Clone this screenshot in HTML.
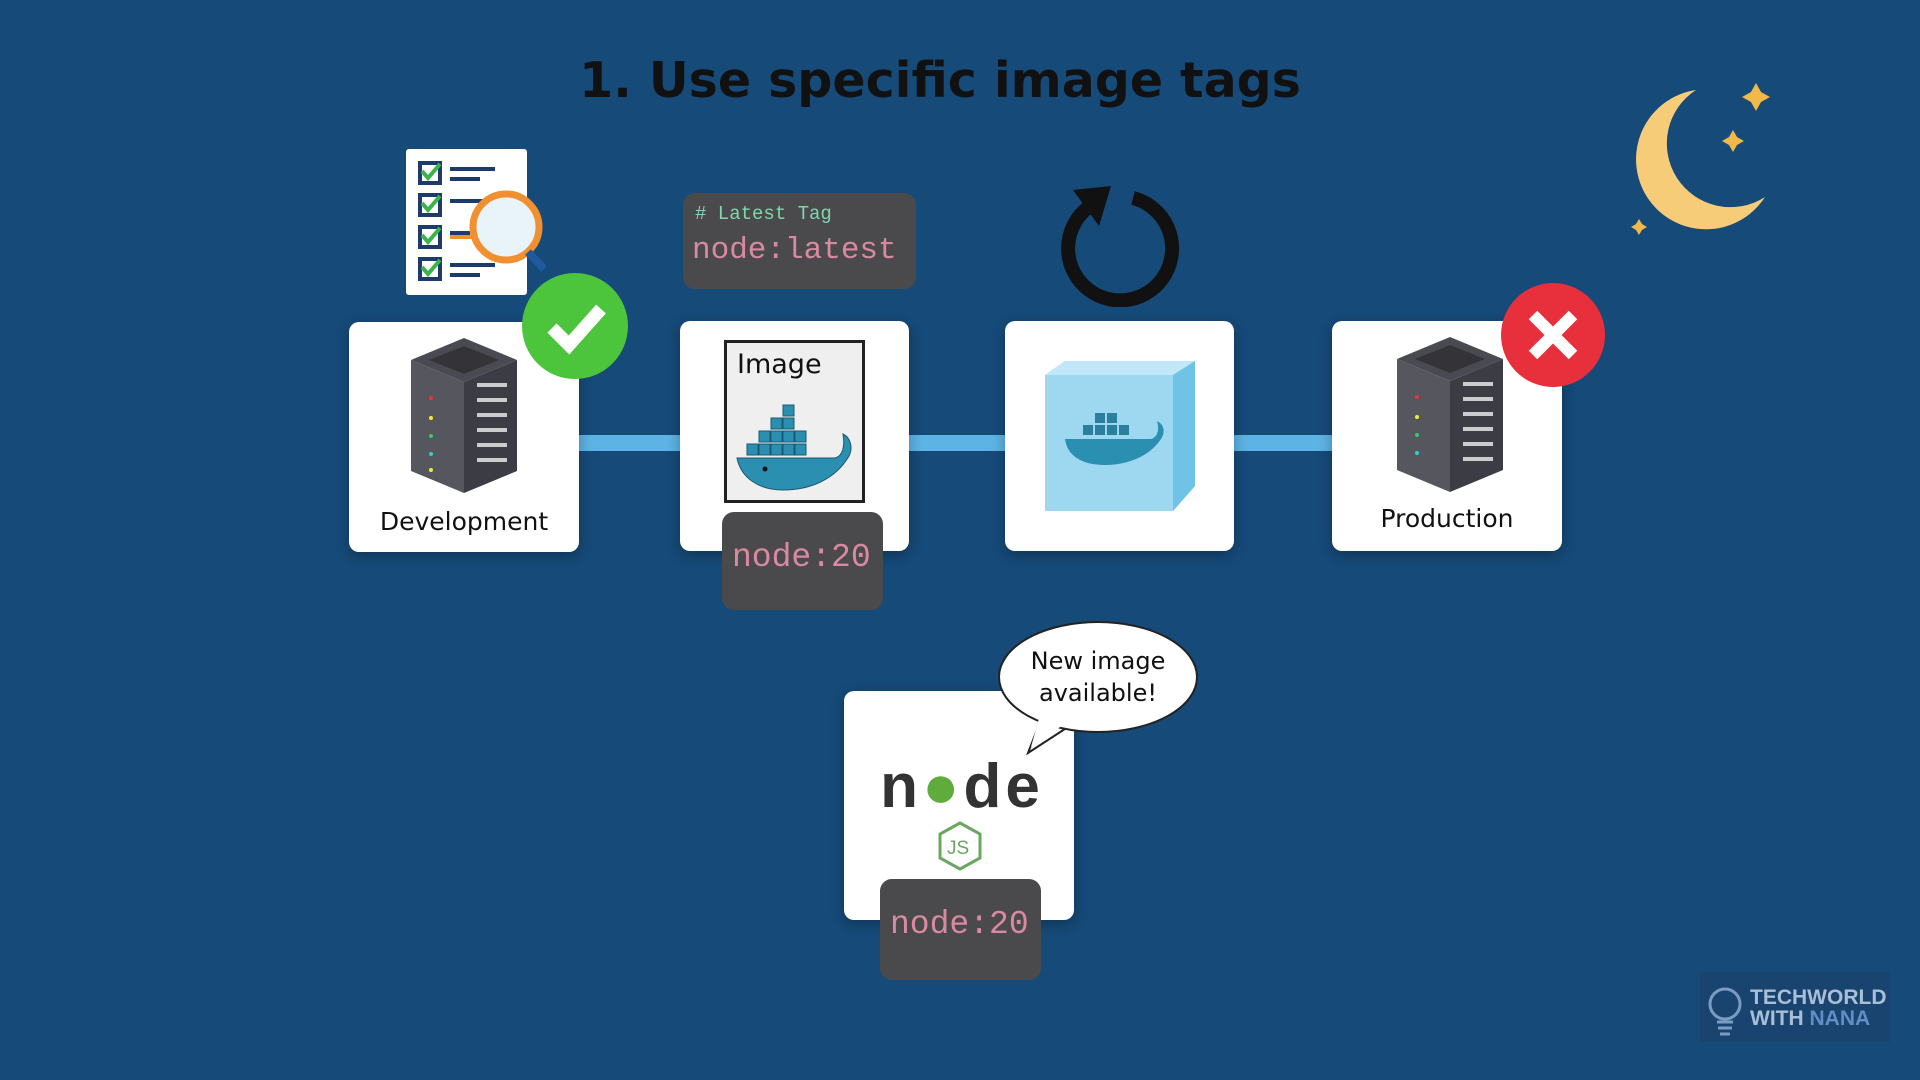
<!DOCTYPE html>
<html><head><meta charset="utf-8"><style>
body{margin:0;width:1920px;height:1080px;background:#164a79;position:relative;overflow:hidden;font-family:"Liberation Sans",sans-serif}
.abs{position:absolute}
.card{position:absolute;background:#fff;border-radius:10px;box-shadow:0 4px 14px rgba(0,0,0,.3)}
.code{position:absolute;background:#4a4a4c;border-radius:12px;font-family:"Liberation Mono",monospace;color:#d98aa0}
.lbl{position:absolute;width:100%;text-align:center;font-size:25px;color:#111;font-family:"DejaVu Sans",sans-serif}
</style></head><body>
<div class="abs" style="left:0;width:1880px;top:52px;text-align:center;font-size:49px;font-weight:bold;color:#111;font-family:'DejaVu Sans',sans-serif;letter-spacing:0px">1. Use specific image tags</div>

<div class="abs" style="left:579px;top:435px;width:753px;height:16px;background:#5db4e4"></div>

<!-- Dev card -->
<div class="card" style="left:349px;top:322px;width:230px;height:230px">
<svg class="abs" style="left:60px;top:16px" width="110" height="160" viewBox="0 0 110 160">
<polygon points="55,0 108,22 55,44 2,22" fill="#4a4a52"/><polygon points="55,8 90,22 55,36 20,22" fill="#333338"/>
<polygon points="2,22 55,44 55,155 2,133" fill="#55565e"/><polygon points="55,44 108,22 108,133 55,155" fill="#3c3d44"/>
<g fill="#ccc"><rect x="68" y="45" width="30" height="4"/><rect x="68" y="60" width="30" height="4"/><rect x="68" y="75" width="30" height="4"/><rect x="68" y="90" width="30" height="4"/><rect x="68" y="105" width="30" height="4"/><rect x="68" y="120" width="30" height="4"/></g>
<circle cx="22" cy="60" r="2" fill="#e33"/><circle cx="22" cy="80" r="2" fill="#ee3"/><circle cx="22" cy="98" r="2" fill="#3c6"/><circle cx="22" cy="116" r="2" fill="#3cc"/><circle cx="22" cy="132" r="2" fill="#ee3"/>
</svg>
<div class="lbl" style="top:185px">Development</div></div>

<!-- checklist -->
<div class="abs" style="left:406px;top:149px;width:121px;height:146px;background:#fff;border-radius:3px"></div>
<svg class="abs" style="left:406px;top:149px" width="150" height="160">
<g stroke="#1d3a6e" stroke-width="4" fill="none"><rect x="14" y="14" width="20" height="20"/><rect x="14" y="46" width="20" height="20"/><rect x="14" y="78" width="20" height="20"/><rect x="14" y="110" width="20" height="20"/>
<path d="M44 20h45M44 30h30M44 52h45M44 84h20M44 116h45M44 126h30"/></g>
<g stroke="#3bb54a" stroke-width="4" fill="none"><path d="M16 22l6 7 12-14M16 54l6 7 12-14M16 86l6 7 12-14M16 118l6 7 12-14"/></g>
<path d="M44 88h50" stroke="#f09030" stroke-width="4"/>
<circle cx="100" cy="78" r="33" fill="#e8f4fa" stroke="#f09030" stroke-width="7"/>
<line x1="122" y1="103" x2="138" y2="120" stroke="#1d5a9e" stroke-width="8"/></svg>
<div class="abs" style="left:522px;top:273px;width:106px;height:106px;border-radius:50%;background:#4cc43c"></div>
<svg class="abs" style="left:522px;top:273px" width="106" height="106"><path d="M30 55l17 17 32-36" stroke="#fff" stroke-width="13" fill="none"/></svg>

<!-- latest tag -->
<div class="code" style="left:683px;top:193px;width:233px;height:96px">
<div class="abs" style="left:12px;top:10px;font-size:19px;color:#7fd6b0"># Latest Tag</div>
<div class="abs" style="left:9px;top:40px;font-size:31px">node:latest</div></div>

<!-- image card -->
<div class="card" style="left:680px;top:321px;width:229px;height:230px">
<div class="abs" style="left:44px;top:19px;width:135px;height:157px;border:3px solid #222;background:#efefef">
<div class="abs" style="left:10px;top:6px;font-size:27px;font-family:'DejaVu Sans',sans-serif;color:#111">Image</div>
<svg class="abs" style="left:8px;top:60px" width="120" height="90" viewBox="0 0 120 90">
<g fill="#2a8fb0" stroke="#1a5a70" stroke-width="1"><rect x="48" y="2" width="11" height="11"/><rect x="36" y="15" width="11" height="11"/><rect x="48" y="15" width="11" height="11"/><rect x="24" y="28" width="11" height="11"/><rect x="36" y="28" width="11" height="11"/><rect x="48" y="28" width="11" height="11"/><rect x="60" y="28" width="11" height="11"/><rect x="12" y="41" width="11" height="11"/><rect x="24" y="41" width="11" height="11"/><rect x="36" y="41" width="11" height="11"/><rect x="48" y="41" width="11" height="11"/><rect x="60" y="41" width="11" height="11"/></g>
<path d="M2 55h98c8-2 10-12 8-24 8 4 10 14 6 22-14 24-40 34-66 34C24 87 6 75 2 55z" fill="#2a8fb0" stroke="#1a5a70"/>
<circle cx="30" cy="66" r="2.5" fill="#111"/></svg></div></div>
<div class="code" style="left:722px;top:512px;width:161px;height:98px"><div class="abs" style="left:10px;top:27px;font-size:33px">node:20</div></div>

<!-- container card -->
<div class="card" style="left:1005px;top:321px;width:229px;height:230px">
<svg class="abs" style="left:40px;top:40px" width="150" height="160">
<polygon points="0,14 20,0 150,0 150,125 128,150 0,150" fill="#9ed8f0"/>
<polygon points="0,14 128,14 150,0 20,0" fill="#c0e8f8"/><polygon points="128,14 150,0 150,125 128,150" fill="#6fc3e6"/>
<g fill="#2a7f9e"><rect x="50" y="52" width="10" height="10"/><rect x="62" y="52" width="10" height="10"/><rect x="38" y="64" width="10" height="10"/><rect x="50" y="64" width="10" height="10"/><rect x="62" y="64" width="10" height="10"/><rect x="74" y="64" width="10" height="10"/></g>
<path d="M20 78h86c8-2 8-12 6-18 8 4 8 12 4 18-12 18-34 26-56 26C36 104 22 94 20 78z" fill="#2a8fb0"/></svg></div>
<!-- refresh -->
<svg class="abs" style="left:1055px;top:182px" width="130" height="125"><path d="M38 22A52 52 0 1 0 78 16" stroke="#111" stroke-width="14" fill="none"/><polygon points="18,8 56,4 44,44" fill="#111"/></svg>

<!-- production -->
<div class="card" style="left:1332px;top:321px;width:230px;height:230px">
<svg class="abs" style="left:63px;top:16px" width="110" height="160" viewBox="0 0 110 160">
<polygon points="55,0 108,22 55,44 2,22" fill="#4a4a52"/><polygon points="55,8 90,22 55,36 20,22" fill="#333338"/>
<polygon points="2,22 55,44 55,155 2,133" fill="#55565e"/><polygon points="55,44 108,22 108,133 55,155" fill="#3c3d44"/>
<g fill="#ccc"><rect x="68" y="45" width="30" height="4"/><rect x="68" y="60" width="30" height="4"/><rect x="68" y="75" width="30" height="4"/><rect x="68" y="90" width="30" height="4"/><rect x="68" y="105" width="30" height="4"/><rect x="68" y="120" width="30" height="4"/></g>
<circle cx="22" cy="60" r="2" fill="#e33"/><circle cx="22" cy="80" r="2" fill="#ee3"/><circle cx="22" cy="98" r="2" fill="#3c6"/><circle cx="22" cy="116" r="2" fill="#3cc"/></svg>
<div class="lbl" style="top:183px">Production</div></div>
<div class="abs" style="left:1501px;top:283px;width:104px;height:104px;border-radius:50%;background:#e8303c"></div>
<svg class="abs" style="left:1501px;top:283px" width="104" height="104"><path d="M32 32l40 40M72 32l-40 40" stroke="#fff" stroke-width="12"/></svg>

<!-- node card -->
<div class="card" style="left:844px;top:691px;width:230px;height:229px">
<div class="abs" style="left:18px;top:60px;width:200px;text-align:center;font-size:62px;font-weight:bold;color:#333;letter-spacing:4px">n<span style="color:#5fab3c">●</span>de</div>
<svg class="abs" style="left:92px;top:130px" width="50" height="50"><polygon points="24,2 44,13 44,37 24,48 4,37 4,13" fill="none" stroke="#6aa860" stroke-width="3"/><text x="11" y="33" font-size="19" fill="#6aa860" font-family="Liberation Sans">JS</text></svg></div>
<div class="code" style="left:880px;top:879px;width:161px;height:101px"><div class="abs" style="left:10px;top:27px;font-size:33px">node:20</div></div>
<svg class="abs" style="left:990px;top:615px" width="215" height="140"><path d="M52 102 L38 138 L78 112 Z" fill="#fff" stroke="#222" stroke-width="2"/><ellipse cx="108" cy="62" rx="99" ry="55" fill="#fff" stroke="#222" stroke-width="2"/><path d="M50 100 L41 132 L76 108 Z" fill="#fff"/></svg>
<div class="abs" style="left:1000px;top:645px;width:196px;text-align:center;font-size:24px;line-height:32px;color:#111;font-family:'DejaVu Sans',sans-serif">New image<br>available!</div>

<!-- moon -->
<svg class="abs" style="left:1620px;top:60px" width="300" height="200">
<path d="M76 30 A70 70 0 1 0 145 137 A62 62 0 0 1 76 30Z" fill="#f7cc78"/>
<path d="M136 23l5 9 9 5-9 5-5 9-5-9-9-5 9-5z" fill="#f2b84a"/><path d="M113 70l4 7 7 4-7 4-4 7-4-7-7-4 7-4z" fill="#f2b84a"/><path d="M19 159l3 5 5 3-5 3-3 5-3-5-5-3 5-3z" fill="#f2b84a"/></svg>

<!-- logo -->
<div class="abs" style="left:1700px;top:972px;width:190px;height:70px;background:#1a4470"></div>
<svg class="abs" style="left:1705px;top:980px" width="40" height="58"><circle cx="20" cy="24" r="15" fill="none" stroke="#7a9cc4" stroke-width="3"/><path d="M12 42h16M13 48h14M15 54h10" stroke="#7a9cc4" stroke-width="3"/></svg>
<div class="abs" style="left:1750px;top:987px;font-size:21px;font-weight:bold;line-height:21px;color:#a9bfd8">TECHWORLD<br>WITH <span style="color:#5f8fc4">NANA</span></div>
</body></html>
